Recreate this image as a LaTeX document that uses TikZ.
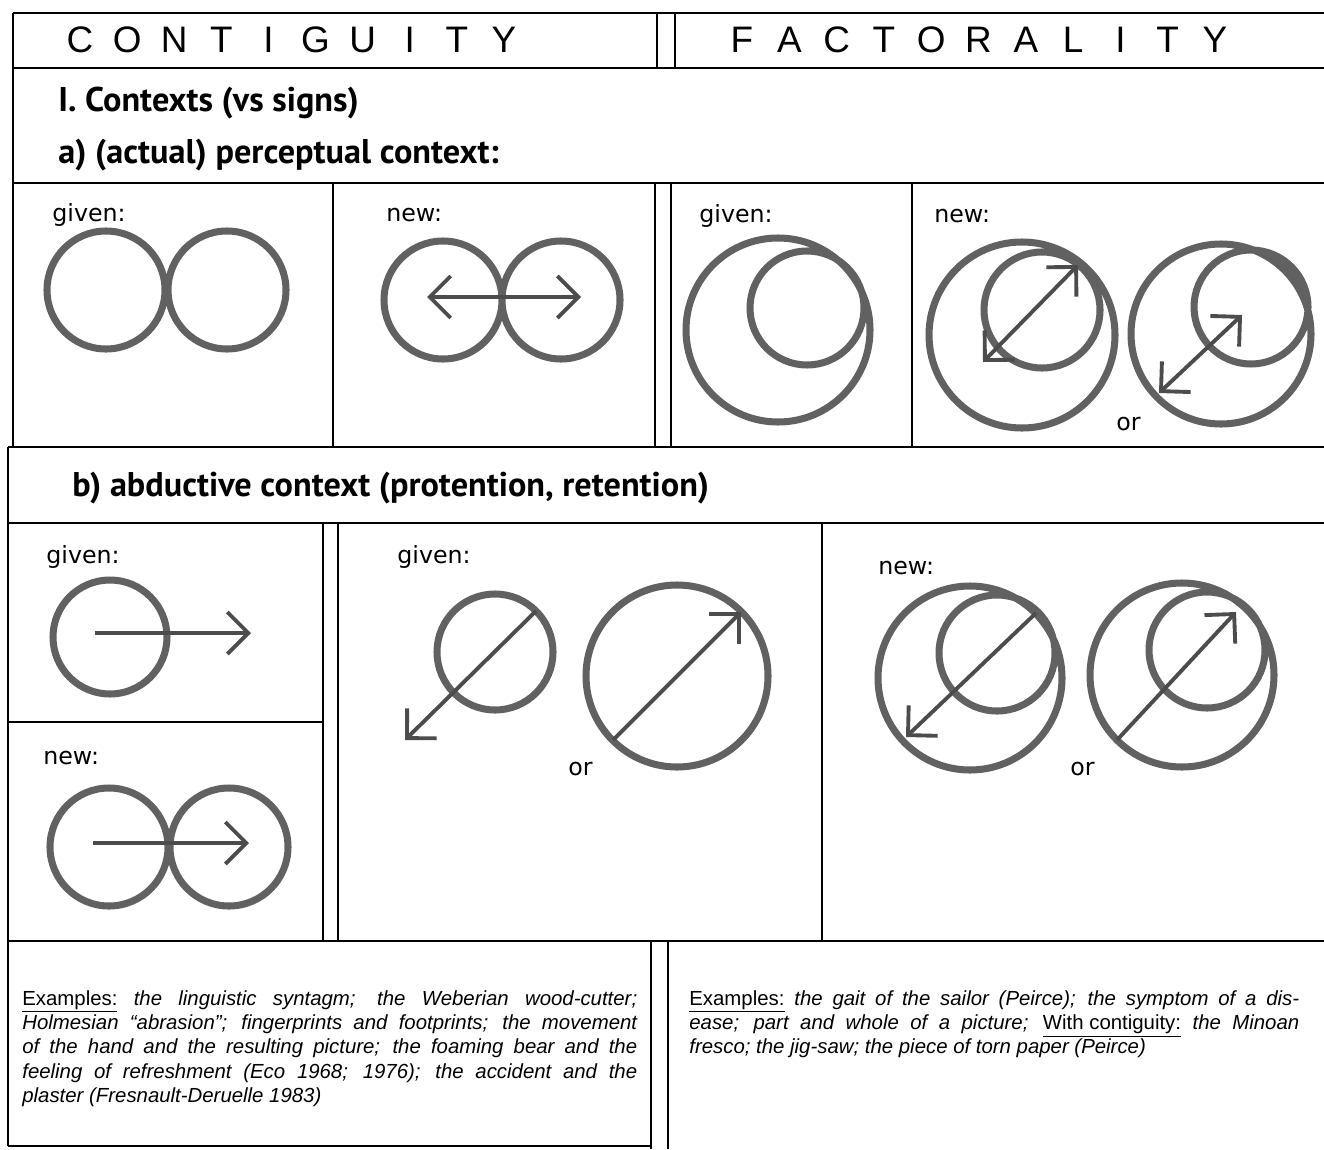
\documentclass[tikz,border=0pt]{standalone}
\usepackage{fontspec}
\setmainfont{Liberation Sans}
\newfontfamily\labelfont{DejaVu Sans}
\newfontfamily\headfont{PT Sans}
\usetikzlibrary{arrows.meta}

\definecolor{ringgray}{gray}{0.38}
\definecolor{shaftgray}{gray}{0.3}

\begin{document}
\begin{tikzpicture}[x=0.02cm, y=-0.02cm, >={Straight Barb[length=4.2mm,width=8.4mm]}]
        \tikzset{frame/.style={line width=1.1pt}, ring/.style={draw=ringgray, line width=4pt}, shaft/.style={draw=shaftgray, line width=2.2pt}, lbl/.style={font=\labelfont\fontsize{13.5}{16}\selectfont, inner sep=0pt, anchor=base west}, sect/.style={font=\headfont\bfseries\fontsize{19.5}{23}\selectfont, inner sep=0pt, anchor=base west}, hdr/.style={font=\fontsize{21}{25}\selectfont, inner sep=0pt, anchor=base}, ex/.style={font=\fontsize{11.6}{13.9}\selectfont\itshape, inner sep=0pt, anchor=north west, align=justify}}
        \useasboundingbox (0,0) rectangle (1324,1149);
        % frame
        \draw[frame] (13,13) -- (1324,13) (13,68) -- (1324,68) (13,183) -- (1324,183);
        \draw[frame] (8,447) -- (1324,447) (8,523) -- (1324,523) (8,941) -- (1324,941);
        \draw[frame] (8,722) -- (323,722) (8,1146) -- (651,1146);
        \draw[frame] (13,13) -- (13,447) (8,447) -- (8,1146);
        \draw[frame] (657,13) -- (657,68) (675,13) -- (675,68);
        \foreach \x in {333,655,671,912} \draw[frame] (\x,183) -- (\x,447);
        \foreach \x in {323,338,822} \draw[frame] (\x,523) -- (\x,941);
        \foreach \x in {651,668} \draw[frame] (\x,941) -- (\x,1149);
        % headings
        \foreach \c [count=\i from 0] in {C,O,N,T,I,G,U,I,T,Y}
            \node[hdr] (cont\i) at (80+47.1*\i,53) {\c};
        \foreach \c [count=\i from 0] in {F,A,C,T,O,R,A,L,I,T,Y}
            \node[hdr] (fact\i) at (742+47.3*\i,53) {\c};
        \node[sect] (sec1) at (58,112) {I. Contexts (vs signs)};
        \node[sect] (seca) at (58,163) {a) (actual) perceptual context:};
        \node[sect] (secb) at (72,496) {b) abductive context (protention, retention)};
        % labels
        \node[lbl] (agiven) at (52,221) {given:};
        \node[lbl] (anew) at (386,221) {new:};
        \node[lbl] (fgiven) at (699,222) {given:};
        \node[lbl] (fnew) at (934,222) {new:};
        \node[lbl] (for) at (1116,430) {or};
        \node[lbl] (bgiven) at (46,563) {given:};
        \node[lbl] (bnew) at (43,764) {new:};
        \node[lbl] (mgiven) at (397,563) {given:};
        \node[lbl] (mor) at (568,775) {or};
        \node[lbl] (rnew) at (878,574) {new:};
        \node[lbl] (ror) at (1070,775) {or};
        % a) contiguity
        \draw[ring] (106,290) circle[radius=59] (227,290) circle[radius=59];
        \draw[ring] (443,300) circle[radius=59] (561,300) circle[radius=59];
        \coordinate (a1) at (427,297); \coordinate (a2) at (581,297);
        \draw[shaft, <->] (a1) -- (a2);
        % a) factorality
        \draw[ring] (778,330) circle[radius=92] (807,308) circle[radius=57];
        \draw[ring] (1022,335) circle[radius=93] (1042,310) circle[radius=58];
        \coordinate (f1) at (983,362); \coordinate (f2) at (1078,265);
        \draw[shaft, <->] (f1) -- (f2);
        \draw[ring] (1221,334) circle[radius=90] (1251,307) circle[radius=57];
        \coordinate (f3) at (1159,393); \coordinate (f4) at (1242,315);
        \draw[shaft, <->] (f3) -- (f4);
        % b) contiguity
        \draw[ring] (110,637) circle[radius=57];
        \coordinate (b1) at (95,633); \coordinate (b2) at (251,633);
        \draw[shaft, ->] (b1) -- (b2);
        \draw[ring] (109,847) circle[radius=59] (229,847) circle[radius=59];
        \coordinate (b3) at (93,843); \coordinate (b4) at (249,843);
        \draw[shaft, ->] (b3) -- (b4);
        % b) given
        \draw[ring] (495,652) circle[radius=58];
        \coordinate (m1) at (536,611); \coordinate (m2) at (405,740);
        \draw[shaft, ->] (m1) -- (m2);
        \draw[ring] (677,676) circle[radius=91];
        \coordinate (m3) at (613,740); \coordinate (m4) at (741,612);
        \draw[shaft, ->] (m3) -- (m4);
        % b) new
        \draw[ring] (970,678) circle[radius=92] (997,653) circle[radius=58];
        \coordinate (r1) at (1036,613); \coordinate (r2) at (906,737);
        \draw[shaft, ->] (r1) -- (r2);
        \draw[ring] (1182,675) circle[radius=92] (1207,650) circle[radius=58];
        \coordinate (r3) at (1117,740); \coordinate (r4) at (1236,612);
        \draw[shaft, ->] (r3) -- (r4);
        % examples
        \node[ex, text width=12.3cm] (exleft) at (22,990) {\hyphenpenalty=10000\relax{\upshape\underline{Examples:}} the linguistic syntagm; the Weberian wood-cutter;\linebreak Holmesian “abrasion”; fingerprints and footprints; the movement\linebreak of the hand and the resulting picture; the foaming bear and the\linebreak feeling of refreshment (Eco 1968; 1976); the accident and the\linebreak plaster (Fresnault-Deruelle 1983)};
        \node[ex, text width=12.2cm] (exright) at (689,990) {\hyphenpenalty=10000\relax{\upshape\underline{Examples:}} the gait of the sailor (Peirce); the symptom of a dis-\linebreak ease; part and whole of a picture; {\upshape\underline{With contiguity:}} the Minoan\linebreak fresco; the jig-saw; the piece of torn paper (Peirce)};
    \end{tikzpicture}
\end{document}
